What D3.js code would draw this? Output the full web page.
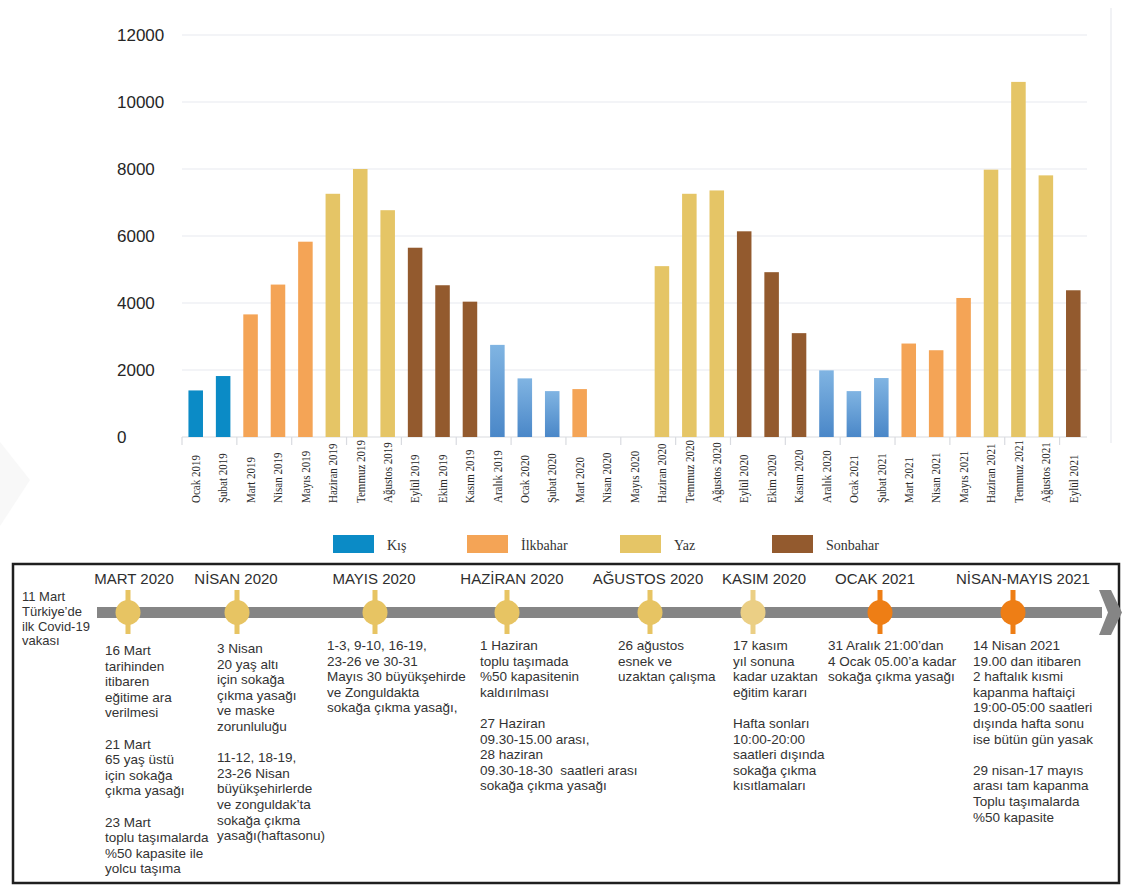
<!DOCTYPE html>
<html>
<head>
<meta charset="utf-8">
<script src="https://cdn.jsdelivr.net/npm/d3@7"></script>
<style>
  body { margin: 0; background: #fff; }
  svg { display: block; }
</style>
</head>
<body>
<div id="chart-container"></div>
<script>
// ---- bar chart data ----
const months = [
  "Ocak 2019", "Şubat 2019", "Mart 2019", "Nisan 2019", "Mayıs 2019", "Haziran 2019",
  "Temmuz 2019", "Ağustos 2019", "Eylül 2019", "Ekim 2019", "Kasım 2019", "Aralık 2019",
  "Ocak 2020", "Şubat 2020", "Mart 2020", "Nisan 2020", "Mayıs 2020", "Haziran 2020",
  "Temmuz 2020", "Ağustos 2020", "Eylül 2020", "Ekim 2020", "Kasım 2020", "Aralık 2020",
  "Ocak 2021", "Şubat 2021", "Mart 2021", "Nisan 2021", "Mayıs 2021", "Haziran 2021",
  "Temmuz 2021", "Ağustos 2021", "Eylül 2021"
];
const values = [
  1390, 1820, 3660, 4550, 5830, 7260, 8000, 6770, 5650, 4530, 4040, 2750,
  1750, 1370, 1430, 0, 0, 5100, 7260, 7360, 6140, 4920, 3100, 1990,
  1370, 1760, 2790, 2590, 4150, 7980, 10600, 7810, 4380
];
const seasons = [
  "Kış", "Kış", "İlkbahar", "İlkbahar", "İlkbahar", "Yaz", "Yaz", "Yaz", "Sonbahar", "Sonbahar", "Sonbahar", "Kış",
  "Kış", "Kış", "İlkbahar", "İlkbahar", "İlkbahar", "Yaz", "Yaz", "Yaz", "Sonbahar", "Sonbahar", "Sonbahar", "Kış",
  "Kış", "Kış", "İlkbahar", "İlkbahar", "İlkbahar", "Yaz", "Yaz", "Yaz", "Sonbahar"
];
const seasonNames = ["Kış", "İlkbahar", "Yaz", "Sonbahar"];
const seasonColors = ["#0b8bc6", "#f4a456", "#e5c566", "#935a2e"];
const yTicks = [0, 2000, 4000, 6000, 8000, 10000, 12000];

// ---- timeline data ----
const firstCase = ["11 Mart", "Türkiye’de", "ilk Covid-19", "vakası"];
const periods = [
  "MART 2020", "NİSAN 2020", "MAYIS 2020", "HAZİRAN 2020",
  "AĞUSTOS 2020", "KASIM 2020", "OCAK 2021", "NİSAN-MAYIS 2021"
];
const periodLevel = ["sarı", "sarı", "sarı", "sarı", "sarı", "açık", "turuncu", "turuncu"];
const notes = [
  [["16 Mart", "tarihinden", "itibaren", "eğitime ara", "verilmesi"],
   ["21 Mart", "65 yaş üstü", "için sokağa", "çıkma yasağı"],
   ["23 Mart", "toplu taşımalarda", "%50 kapasite ile", "yolcu taşıma"]],
  [["3 Nisan", "20 yaş altı", "için sokağa", "çıkma yasağı", "ve maske", "zorunluluğu"],
   ["11-12, 18-19,", "23-26 Nisan", "büyükşehirlerde", "ve zonguldak’ta", "sokağa çıkma", "yasağı(haftasonu)"]],
  [["1-3, 9-10, 16-19,", "23-26 ve 30-31", "Mayıs 30 büyükşehirde", "ve Zonguldakta", "sokağa çıkma yasağı,"]],
  [["1 Haziran", "toplu taşımada", "%50 kapasitenin", "kaldırılması"],
   ["27 Haziran", "09.30-15.00 arası,", "28 haziran", "09.30-18-30  saatleri arası", "sokağa çıkma yasağı"]],
  [["26 ağustos", "esnek ve", "uzaktan çalışma"]],
  [["17 kasım", "yıl sonuna", "kadar uzaktan", "eğitim kararı"],
   ["Hafta sonları", "10:00-20:00", "saatleri dışında", "sokağa çıkma", "kısıtlamaları"]],
  [["31 Aralık 21:00’dan", "4 Ocak 05.00’a kadar", "sokağa çıkma yasağı"]],
  [["14 Nisan 2021", "19.00 dan itibaren", "2 haftalık kısmi", "kapanma haftaiçi", "19:00-05:00 saatleri", "dışında hafta sonu", "ise bütün gün yasak"],
   ["29 nisan-17 mayıs", "arası tam kapanma", "Toplu taşımalarda", "%50 kapasite"]]
];

// ---- layout ----
const W = 1122, H = 887;
const plot = { left: 182, right: 1087, top: 35, bottom: 437 };
const markerX = [128, 237, 375, 507, 650, 753, 880, 1013];
const headingX = [134, 236, 374, 512, 648, 764, 875, 1023];
const noteX = [105, 217, 327, 480, 618, 733, 828, 973];
const noteY = [655, 653, 650, 650, 650, 650, 650, 650];
const levelColor = { "sarı": "#e7c463", "açık": "#ebcf85", "turuncu": "#ee7e15" };
const lineH = 15.6;

const svg = d3
  .select("#chart-container")
  .append("svg")
  .attr("width", W)
  .attr("height", H);

const defs = svg.append("defs");
const grad = defs
  .append("linearGradient")
  .attr("id", "winterGrad")
  .attr("x1", 0).attr("y1", 0).attr("x2", 0).attr("y2", 1);
grad.append("stop").attr("offset", "0%").attr("stop-color", "#80b4e2");
grad.append("stop").attr("offset", "100%").attr("stop-color", "#4a87c8");

const xScale = d3
  .scaleBand()
  .domain(months)
  .range([plot.left, plot.right])
  .paddingInner(0.47)
  .paddingOuter(0.235);
const yScale = d3.scaleLinear().domain([0, 12000]).range([plot.bottom, plot.top]);
const color = d3.scaleOrdinal().domain(seasonNames).range(seasonColors);

// very faint page fold at the left edge
svg
  .append("path")
  .attr("d", "M0,442 L30,480 L0,526 Z")
  .attr("fill", "#f8f8f8");

// faint frame line on the right of the chart
svg
  .append("line")
  .attr("x1", 1111).attr("x2", 1111)
  .attr("y1", 8).attr("y2", 443)
  .attr("stroke", "#eceef2")
  .attr("stroke-width", 1.5);

// grid
svg
  .append("g")
  .attr("class", "grid")
  .selectAll("line")
  .data(yTicks)
  .join("line")
  .attr("x1", plot.left)
  .attr("x2", plot.right)
  .attr("y1", (d) => yScale(d))
  .attr("y2", (d) => yScale(d))
  .attr("stroke", (d) => (d === 0 ? "#d9dbe0" : "#e7e9ef"))
  .attr("stroke-width", 1.2);

// y labels, left aligned like the original
svg
  .append("g")
  .selectAll("text")
  .data(yTicks)
  .join("text")
  .attr("x", 117)
  .attr("y", (d) => yScale(d))
  .attr("dy", "0.36em")
  .style("font-family", "Liberation Sans, Arial, sans-serif")
  .style("font-size", "17px")
  .attr("fill", "#262626")
  .text((d) => d);

// x tick marks every two months
const tickIdx = d3.range(0, months.length + 1, 2);
svg
  .append("g")
  .selectAll("line")
  .data(tickIdx)
  .join("line")
  .attr("x1", (i) => plot.left + i * xScale.step())
  .attr("x2", (i) => plot.left + i * xScale.step())
  .attr("y1", plot.bottom)
  .attr("y2", plot.bottom + 8)
  .attr("stroke", "#d9dbe0")
  .attr("stroke-width", 1.2);

// bars
svg
  .append("g")
  .selectAll("rect")
  .data(months)
  .join("rect")
  .attr("x", (d) => xScale(d))
  .attr("width", xScale.bandwidth())
  .attr("y", (d, i) => yScale(values[i]))
  .attr("height", (d, i) => yScale(0) - yScale(values[i]))
  .attr("fill", (d, i) =>
    seasons[i] === "Kış" && i > 1 ? "url(#winterGrad)" : color(seasons[i])
  );

// month labels (narrow serif, read bottom to top)
svg
  .append("g")
  .selectAll("text")
  .data(months)
  .join("text")
  .attr("transform", (d) => `translate(${xScale(d) + xScale.bandwidth() / 2},503) rotate(-90) scale(0.88,1)`)
  .attr("dy", "0.34em")
  .style("font-family", "Liberation Serif, Times New Roman, serif")
  .style("font-size", "12.5px")
  .attr("fill", "#2a2a2a")
  .text((d) => d);

// legend
const legendX = [333, 467, 620, 772];
const legend = svg
  .append("g")
  .selectAll("g")
  .data(seasonNames)
  .join("g")
  .attr("transform", (d, i) => `translate(${legendX[i]},535)`);
legend
  .append("rect")
  .attr("width", 41)
  .attr("height", 18)
  .attr("fill", (d) => color(d));
legend
  .append("text")
  .attr("x", 54)
  .attr("y", 15)
  .style("font-family", "Liberation Serif, Times New Roman, serif")
  .style("font-size", "14px")
  .attr("fill", "#333")
  .text((d) => d);

// ---- timeline ----
svg
  .append("rect")
  .attr("x", 13)
  .attr("y", 564)
  .attr("width", 1106)
  .attr("height", 319)
  .attr("fill", "none")
  .attr("stroke", "#1f1f1f")
  .attr("stroke-width", 2.5);

svg
  .append("rect")
  .attr("x", 97)
  .attr("y", 607)
  .attr("width", 1005)
  .attr("height", 11)
  .attr("fill", "#858585");
svg
  .append("path")
  .attr("d", "M1099,590 L1111,590 L1122,612.5 L1111,635 L1099,635 L1108,612.5 Z")
  .attr("fill", "#858585");

const font = "Liberation Sans, Arial, sans-serif";

svg
  .append("g")
  .selectAll("text")
  .data(firstCase)
  .join("text")
  .attr("x", 22)
  .attr("y", (d, i) => 601 + i * 14.8)
  .style("font-family", font)
  .style("font-size", "13px")
  .attr("fill", "#333")
  .text((d) => d);

const period = svg
  .append("g")
  .selectAll("g")
  .data(periods)
  .join("g");

period
  .append("text")
  .attr("x", (d, i) => headingX[i])
  .attr("y", 584)
  .attr("text-anchor", "middle")
  .style("font-family", font)
  .style("font-size", "15px")
  .attr("fill", "#2e2e2e")
  .text((d) => d);

period
  .append("rect")
  .attr("x", (d, i) => markerX[i] - 2.5)
  .attr("y", 590)
  .attr("width", 5)
  .attr("height", 44)
  .attr("fill", (d, i) => levelColor[periodLevel[i]]);

period
  .append("circle")
  .attr("cx", (d, i) => markerX[i])
  .attr("cy", 612.5)
  .attr("r", 12.5)
  .attr("fill", (d, i) => levelColor[periodLevel[i]]);

period.each(function (d, i) {
  const g = d3.select(this);
  let row = 0;
  notes[i].forEach((para, p) => {
    if (p > 0) row += 1;
    para.forEach((line) => {
      g.append("text")
        .attr("x", noteX[i])
        .attr("y", noteY[i] + row * lineH)
        .style("font-family", font)
        .style("font-size", "13.5px")
        .style("white-space", "pre")
        .attr("fill", "#333")
        .text(line);
      row += 1;
    });
  });
});
</script>
</body>
</html>
